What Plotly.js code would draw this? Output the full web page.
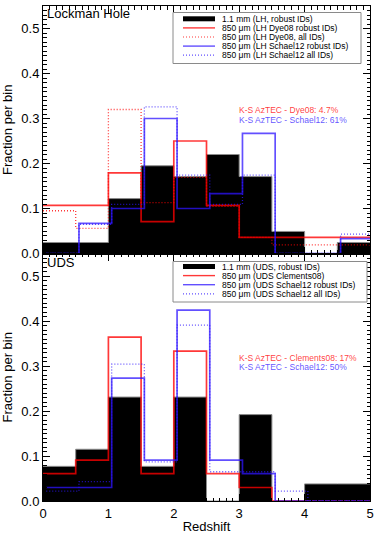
<!DOCTYPE html>
<html><head><meta charset="utf-8">
<script src="https://cdn.plot.ly/plotly-3.0.1.min.js"></script>
<style>html,body{margin:0;padding:0;background:#fff}#chart{width:374px;height:534px}</style>
</head><body><div id="chart"></div>
<script>
// ---- data ----
const binEdges = [0,0.5,1,1.5,2,2.5,3,3.5,4,4.5,5];
const xTickVals = [0,1,2,3,4,5];
const xTickLabels = ['0','1','2','3','4','5'];
const yTickVals = [0,0.1,0.2,0.3,0.4,0.5];
const yTickLabels = ['0.0','0.1','0.2','0.3','0.4','0.5'];

// Lockman Hole
const lhAztecRobust = [0.0244,0.0244,0.122,0.195,0.171,0.220,0.171,0.049,0,0.0244];
const lhDyeRobust   = [0.107,0.107,0.179,0.071,0.250,0.107,0.036,0.036,0.036,0.036];
const lhDyeAll      = [0.095,0.056,0.320,0.113,0.169,0.105,0.036,0.019,0.019,0.019];
const lhSchRobust   = [0,0.067,0.100,0.300,0.100,0.133,0.267,0,0,0.033];
const lhSchAll      = [0,0.065,0.109,0.326,0.174,0.109,0.174,0,0,0.043];
// UDS
const udsAztecRobust = [0.077,0.115,0.231,0.077,0.231,0,0.192,0,0.038,0.038];
const udsClements    = [0.061,0.091,0.364,0.061,0.333,0.061,0.030,0,0,0];
const udsSchRobust   = [0.030,0.030,0.273,0.091,0.424,0.091,0.061,0,0,0];
const udsSchAll      = [0.022,0.043,0.304,0.087,0.391,0.065,0.065,0.022,0,0];

const lhNames = ['1.1 mm (LH, robust IDs)','850 μm (LH Dye08 robust IDs)','850 μm (LH Dye08, all IDs)','850 μm (LH Schael12 robust IDs)','850 μm (LH Schael12 all IDs)'];
const udsNames = ['1.1 mm (UDS, robust IDs)','850 μm (UDS Clements08)','850 μm (UDS Schael12 robust IDs)','850 μm (UDS Schael12 all IDs)'];
const lhKS = ['K-S AzTEC - Dye08: 4.7%','K-S AzTEC - Schael12: 61%'];
const udsKS = ['K-S AzTEC - Clements08: 17%','K-S AzTEC - Schael12: 50%'];
const panelLabels = ['Lockman Hole','UDS'];

// ---- layout helpers ----
const W=374, H=534, M={l:43,r:4,t:6,b:33};
const PX = px => (px - M.l)/(W - M.l - M.r);
const PY = py => (H - M.b - py)/(H - M.t - M.b);
const SCH_SHIFT = 0.05;   // Schael12 histograms drawn slightly offset
const FONT = 'Liberation Sans, Arial, Helvetica, sans-serif';
const RED = 'rgba(255,0,0,0.78)';
const BLUE = 'rgba(45,20,255,0.75)';
const DOT = '1px,2px';
const SMALL = 8.5;

const stepX = s => binEdges.map(e => e + s);
const stepY = v => v.concat([v[v.length-1]]);

function fillTrace(v, xa, ya){
  return {x: stepX(0), y: stepY(v), xaxis: xa, yaxis: ya, mode:'lines', type:'scatter',
    line:{shape:'hv', color:'#8c8c8c', width:1}, fill:'tozeroy', fillcolor:'#000', hoverinfo:'skip', showlegend:false};
}
function stepTrace(v, shift, color, dash, width, xa, ya){
  return {x: stepX(shift), y: stepY(v), xaxis: xa, yaxis: ya, mode:'lines', type:'scatter',
    line:{shape:'hv', color: color, dash: dash, width: width}, hoverinfo:'skip', showlegend:false};
}

const data = [
  fillTrace(lhAztecRobust,'x','y'),
  stepTrace(lhDyeAll,0,RED,DOT,1.3,'x','y'),
  stepTrace(lhDyeRobust,0,RED,'solid',1.7,'x','y'),
  stepTrace(lhSchAll,SCH_SHIFT,BLUE,DOT,1.3,'x','y'),
  stepTrace(lhSchRobust,SCH_SHIFT,BLUE,'solid',1.7,'x','y'),
  fillTrace(udsAztecRobust,'x2','y2'),
  stepTrace(udsClements,0,RED,'solid',1.7,'x2','y2'),
  stepTrace(udsSchAll,SCH_SHIFT,BLUE,DOT,1.3,'x2','y2'),
  stepTrace(udsSchRobust,SCH_SHIFT,BLUE,'solid',1.7,'x2','y2')
];

const axCommon = {ticks:'inside', ticklen:7, tickwidth:1, tickcolor:'#000', showline:true, linecolor:'#000', linewidth:1,
  mirror:'allticks', showgrid:false, zeroline:false, tickfont:{family:FONT, size:13, color:'#000'}};
const xa = Object.assign({}, axCommon, {range:[0,5], tickmode:'array', tickvals:xTickVals, ticktext:xTickLabels,
  minor:{ticks:'inside', ticklen:3.5, tick0:0, dtick:0.1, tickcolor:'#000', tickwidth:1, showgrid:false}});
const ya = Object.assign({}, axCommon, {range:[0,0.55], tickmode:'array', tickvals:yTickVals, ticktext:yTickLabels,
  minor:{ticks:'inside', ticklen:3.5, tick0:0, dtick:0.01, tickcolor:'#000', tickwidth:1, showgrid:false},
  title:{text:'Fraction per bin', font:{family:FONT, size:13, color:'#000'}}});

const annotations = [];
const shapes = [];
function txt(x, y, s, color, size){
  annotations.push({xref:'paper', yref:'paper', x:PX(x), y:PY(y), text:s, showarrow:false,
    xanchor:'left', yanchor:'middle', borderpad:0, font:{family:FONT, size:size, color:color}});
}
// panel labels
txt(46, 13.5, panelLabels[0], '#000', 13);
txt(46, 262, panelLabels[1], '#000', 13);
// K-S texts
txt(238, 110, lhKS[0], RED, SMALL);
txt(238, 119.5, lhKS[1], BLUE, SMALL);
txt(238, 358, udsKS[0], RED, SMALL);
txt(238, 367.5, udsKS[1], BLUE, SMALL);

// manual legends
function legend(names, styles, x0, x1, y0, y1, row0, rowH){
  shapes.push({type:'rect', xref:'paper', yref:'paper', x0:PX(x0), x1:PX(x1), y0:PY(y1), y1:PY(y0),
    line:{color:'#8a8a8a', width:1}, fillcolor:'#fff', layer:'above'});
  names.forEach((n,i)=>{
    const y = row0 + i*rowH;
    const st = styles[i];
    shapes.push({type:'line', xref:'paper', yref:'paper', x0:PX(183), x1:PX(215), y0:PY(y), y1:PY(y),
      line:{color:st.color, width:st.width, dash:st.dash}, layer:'above'});
    txt(221, y, n, '#000', SMALL);
  });
}
legend(lhNames, [
  {color:'#000', width:5, dash:'solid'},
  {color:RED, width:1.4, dash:'solid'},
  {color:RED, width:1.2, dash:DOT},
  {color:BLUE, width:1.4, dash:'solid'},
  {color:BLUE, width:1.2, dash:DOT}], 173, 361, 12.5, 63.5, 18.8, 9.1);
legend(udsNames, [
  {color:'#000', width:5, dash:'solid'},
  {color:RED, width:1.4, dash:'solid'},
  {color:BLUE, width:1.4, dash:'solid'},
  {color:BLUE, width:1.2, dash:DOT}], 173, 367, 261.5, 302, 266.5, 9.1);

const layout = {
  width:W, height:H, margin:M, paper_bgcolor:'#fff', plot_bgcolor:'#fff', showlegend:false,
  font:{family:FONT, color:'#000'},
  xaxis: Object.assign({}, xa, {anchor:'y', showticklabels:false}),
  yaxis: Object.assign({}, ya, {domain:[0.5,1], anchor:'x'}),
  xaxis2: Object.assign({}, xa, {anchor:'y2', title:{text:'Redshift', font:{family:FONT, size:13, color:'#000'}, standoff:2}}),
  yaxis2: Object.assign({}, ya, {domain:[0,0.5], anchor:'x2'}),
  annotations: annotations, shapes: shapes
};
Plotly.newPlot('chart', data, layout, {staticPlot:true, displayModeBar:false});
</script></body></html>
